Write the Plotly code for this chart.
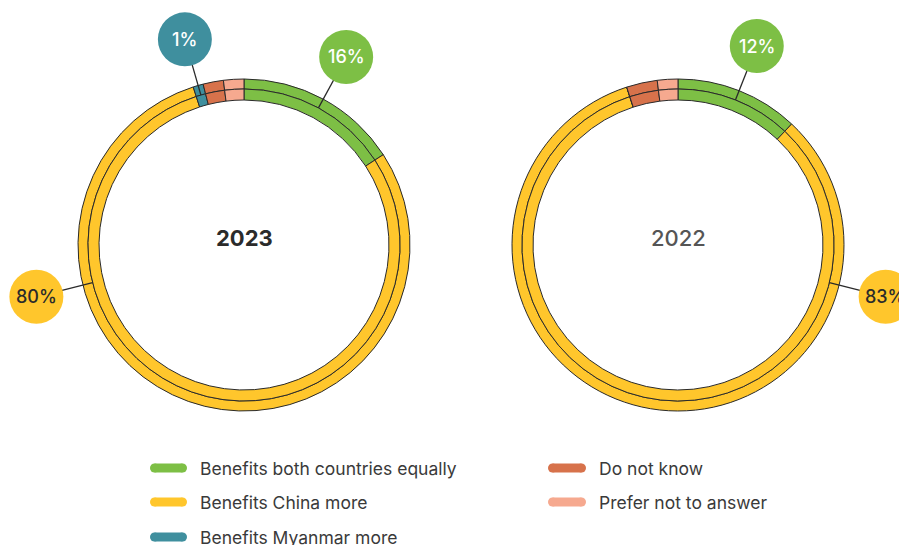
import math
import plotly.graph_objects as go

# ---------------- data ----------------
categories = [
    "Benefits both countries equally",
    "Benefits China more",
    "Benefits Myanmar more",
    "Do not know",
    "Prefer not to answer",
]
years = ["2023", "2022"]
values_2023 = [16, 80, 1, 2, 2]
values_2022 = [12, 83, 0, 3, 2]
labelled_categories = [0, 1, 2]  # slices that carry a percentage bubble

# ---------------- style ----------------
colors = ["#7dbf45", "#ffc62c", "#3f8f9e", "#d7724b", "#f6a98f"]
bubble_text_colors = ["#ffffff", "#2b2b2b", "#ffffff", "#ffffff", "#2b2b2b"]
W, H = 907, 545
OX, OY = 8, 8  # page body margin: work in screenshot pixel coordinates
FW, FH = W - OX, H - OY  # figure reaches the window's right/bottom edges
centers = {"2023": (244, 245), "2022": (678, 245)}
R_OUT, R_MID, R_IN = 166, 156, 145
BUBBLE_R = 27
LABEL_DIST = 214
angle_override = {("2023", 1): 256, ("2022", 1): 104}
title_styles = {
    "2023": dict(color="#2b2b2b", weight=700),
    "2022": dict(color="#555555", weight=500),
}
FONT = "Inter, Lato, sans-serif"
OUTLINE = "#2a2a2a"

fig = go.Figure()
shapes = []
annotations = []

series = {"2023": values_2023, "2022": values_2022}


def px_domain(cx, cy, r):
    x = cx - OX
    y = cy - OY
    return dict(
        x=[(x - r) / FW, (x + r) / FW],
        y=[(FH - y - r) / FH, (FH - y + r) / FH],
    )


for yr in years:
    vals = series[yr]
    cx, cy = centers[yr]
    # two concentric rings with the same data
    for r, hole in [(R_OUT, R_MID / R_OUT), (R_MID, R_IN / R_MID)]:
        fig.add_trace(
            go.Pie(
                labels=categories,
                values=vals,
                hole=hole,
                sort=False,
                direction="clockwise",
                rotation=0,
                textinfo="none",
                hoverinfo="label+percent",
                showlegend=False,
                marker=dict(colors=colors, line=dict(color=OUTLINE, width=1)),
                domain=px_domain(cx, cy, r),
            )
        )
    annotations.append(
        dict(
            x=cx, y=cy - 7, xref="x", yref="y", text=yr, showarrow=False,
            font=dict(family=FONT, size=22, **title_styles[yr]),
        )
    )
    total = sum(vals)
    cum = 0
    for i, v in enumerate(vals):
        mid = (cum + v / 2) / total * 360
        cum += v
        if i not in labelled_categories or v == 0:
            continue
        ang = angle_override.get((yr, i), mid)
        a = math.radians(ang)
        x0 = cx + R_MID * math.sin(a)
        y0 = cy - R_MID * math.cos(a)
        bx = cx + LABEL_DIST * math.sin(a)
        by = cy - LABEL_DIST * math.cos(a)
        shapes.append(dict(type="line", xref="x", yref="y", x0=x0, y0=y0, x1=bx, y1=by,
                           line=dict(color=OUTLINE, width=1.3), layer="above"))
        shapes.append(dict(type="circle", xref="x", yref="y",
                           x0=bx - BUBBLE_R, x1=bx + BUBBLE_R,
                           y0=by - BUBBLE_R, y1=by + BUBBLE_R,
                           fillcolor=colors[i], line=dict(width=0), layer="above"))
        annotations.append(
            dict(x=bx, y=by, xref="x", yref="y", text=f"{v}%", showarrow=False,
                 font=dict(family=FONT, size=18, color=bubble_text_colors[i], weight=500))
        )

# ---------------- custom legend ----------------
legend_slots = [
    (150, 187, 468), (150, 187, 502), (150, 187, 537),
    (548, 586, 468), (548, 586, 502),
]
for i, cat in enumerate(categories):
    x0, x1, y = legend_slots[i]
    fig.add_trace(
        go.Scatter(
            x=[x0 + 4.5, x1 - 4.5], y=[y, y], mode="lines+markers",
            line=dict(color=colors[i], width=9),
            marker=dict(color=colors[i], size=9),
            hoverinfo="skip", showlegend=False,
        )
    )
    annotations.append(
        dict(x=x1 + 11, y=y, xref="x", yref="y", text=cat, showarrow=False,
             xanchor="left", yanchor="middle",
             font=dict(family=FONT, size=17.5, color="#3a3a3a"))
    )

fig.update_layout(
    width=FW, height=FH,
    margin=dict(l=0, r=0, t=0, b=0),
    paper_bgcolor="#ffffff",
    plot_bgcolor="rgba(0,0,0,0)",
    xaxis=dict(range=[OX, W], visible=False, fixedrange=True),
    yaxis=dict(range=[H, OY], visible=False, fixedrange=True),
    shapes=shapes,
    annotations=annotations,
    showlegend=False,
)

fig.write_html("out.html")
